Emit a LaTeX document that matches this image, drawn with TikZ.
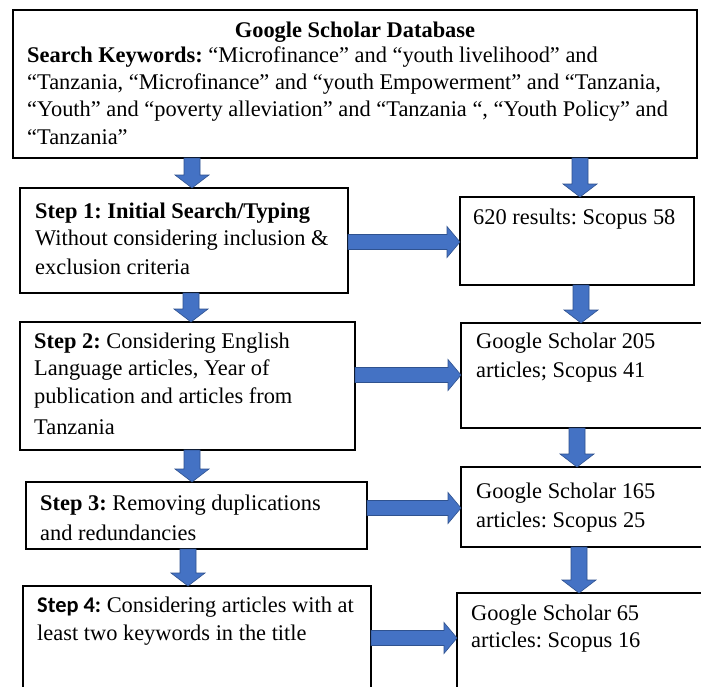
\documentclass[tikz,border=0pt]{standalone}
\usepackage{fontspec}
\setmainfont{Liberation Serif}
\newfontfamily\tnr{Liberation Serif}
\newfontfamily\carlito{Carlito}
\usetikzlibrary{calc}
\definecolor{arrblue}{HTML}{4472C4}
\definecolor{arredge}{HTML}{2F528F}
\frenchspacing
\tikzset{
  box/.style={draw=black, line width=1.1pt, fill=white, inner sep=0pt, outer sep=0pt, anchor=north west},
  txt/.style={anchor=west, inner sep=0pt, font=\tnr\fontsize{22.4}{27}\selectfont\frenchspacing},
  bigarrow/.style={fill=arrblue, draw=arredge, line width=0.6pt},
}
\newcommand\boxnode[5]{\node[box, minimum width={(#4-#2)*1pt}, minimum height={(#5-#3)*1pt}] (#1) at (#2,#3) {};}
\newcommand\varr[3]{%
  \filldraw[bigarrow] let \p1=(#1.south), \p2=(#2.north) in
  ({(#3-8)*1pt},\y1) -- ({(#3-8)*1pt},{\y2+13pt}) -- ({(#3-17)*1pt},{\y2+13pt}) --
  ({(#3)*1pt},\y2) -- ({(#3+17)*1pt},{\y2+13pt}) -- ({(#3+8)*1pt},{\y2+13pt}) --
  ({(#3+8)*1pt},\y1) -- cycle;}
\newcommand\harr[3]{%
  \filldraw[bigarrow] let \p1=(#1.east), \p2=(#2.west) in
  (\x1,{-(#3-7.5)*1pt}) -- ({\x2-13pt},{-(#3-7.5)*1pt}) -- ({\x2-13pt},{-(#3-15.5)*1pt}) --
  (\x2,{-(#3)*1pt}) -- ({\x2-13pt},{-(#3+15.5)*1pt}) -- ({\x2-13pt},{-(#3+7.5)*1pt}) --
  (\x1,{-(#3+7.5)*1pt}) -- cycle;}
\begin{document}
\begin{tikzpicture}[x=1pt,y=-1pt]
\useasboundingbox (0,0) rectangle (701,686);
\fill[white] (0,0) rectangle (701,686);
\clip (0,0) rectangle (701,686);
% boxes
\boxnode{top}{13}{10}{697}{158}
\boxnode{s1}{20}{188}{348}{293}
\boxnode{r1}{460}{197}{694}{285}
\boxnode{s2}{20}{322}{355}{450}
\boxnode{r2}{461}{323}{706}{428}
\boxnode{s3}{26}{482}{367}{549}
\boxnode{r3}{461}{467}{706}{547}
\boxnode{s4}{23}{586}{371}{700}
\boxnode{r4}{457}{593}{706}{700}
% arrows
\varr{top}{s1}{192}
\varr{top}{r1}{580}
\harr{s1}{r1}{242}
\varr{s1}{s2}{191}
\varr{r1}{r2}{581}
\harr{s2}{r2}{375}
\varr{s2}{s3}{192}
\varr{r2}{r3}{577}
\harr{s3}{r3}{508}
\varr{s3}{s4}{188}
\varr{r3}{r4}{579}
\harr{s4}{r4}{638}
% texts
\node[txt, anchor=center] (t0) at (355,32) {\textbf{Google Scholar Database}};
\node[txt] (t1) at (27,57) {\textbf{Search Keywords:} “Microfinance” and “youth livelihood” and};
\node[txt] (t2) at (27,84) {“Tanzania, “Microfinance” and “youth Empowerment” and “Tanzania,};
\node[txt] (t3) at (27,111) {“Youth” and “poverty alleviation” and “Tanzania “, “Youth Policy” and};
\node[txt] (t4) at (27,137) {“Tanzania”};
\node[txt] (a1) at (35,213) {\textbf{Step 1: Initial Search/Typing}};
\node[txt] (a2) at (35,240) {Without considering inclusion \&};
\node[txt] (a3) at (35,267) {exclusion criteria};
\node[txt] (b1) at (473,219) {620 results: Scopus 58};
\node[txt] (c1) at (34,343) {\textbf{Step 2:} Considering English};
\node[txt] (c2) at (34,370) {Language articles, Year of};
\node[txt] (c3) at (34,398) {publication and articles from};
\node[txt] (c4) at (34,427) {Tanzania};
\node[txt] (d1) at (476,343) {Google Scholar 205};
\node[txt] (d2) at (476,372) {articles; Scopus 41};
\node[txt] (e1) at (40,505) {\textbf{Step 3:} Removing duplications};
\node[txt] (e2) at (40,533) {and redundancies};
\node[txt] (f1) at (476,493) {Google Scholar 165};
\node[txt] (f2) at (476,522) {articles: Scopus 25};
\node[txt] (g1) at (37,607) {{\carlito\bfseries Step 4:} Considering articles with at};
\node[txt] (g2) at (37,635) {least two keywords in the title};
\node[txt] (h1) at (471,615) {Google Scholar 65};
\node[txt] (h2) at (471,642) {articles: Scopus 16};
\end{tikzpicture}
\end{document}
